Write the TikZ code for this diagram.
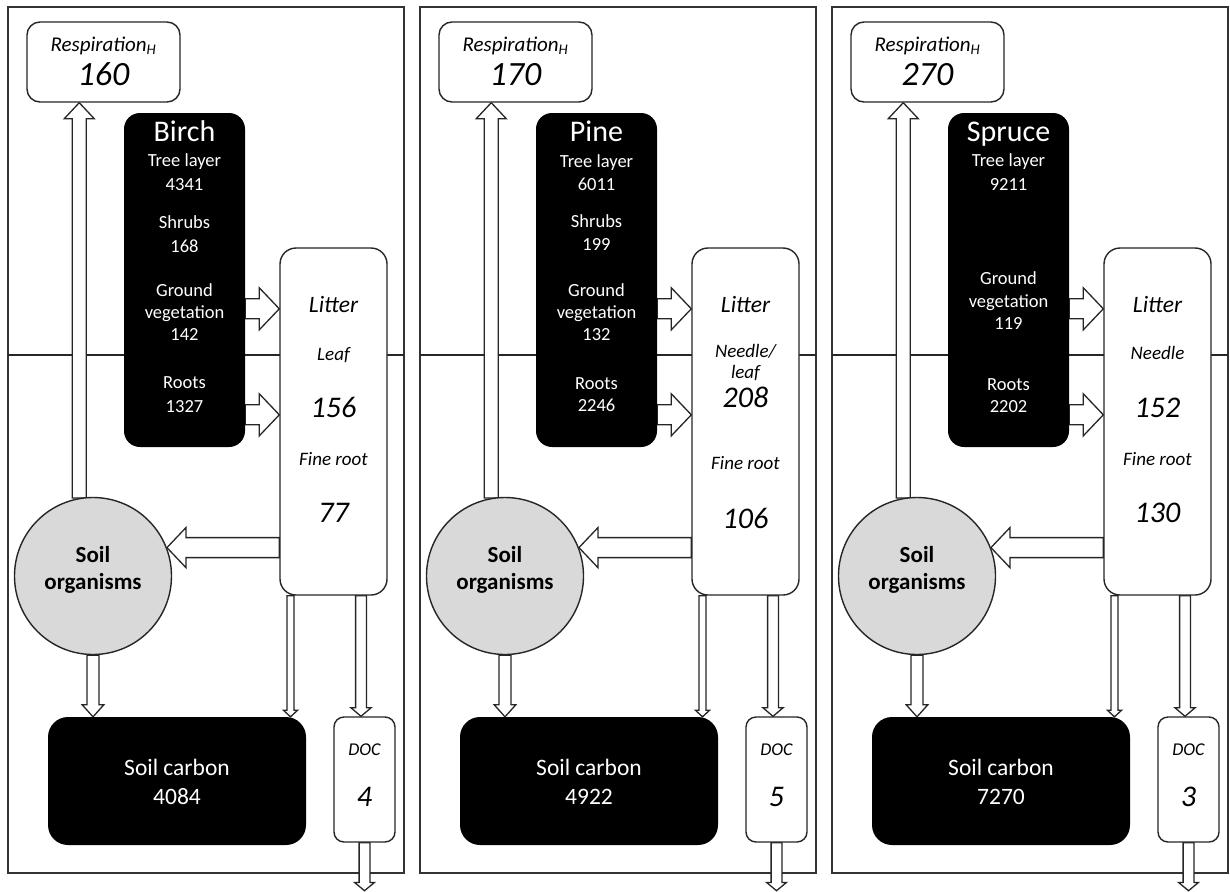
\documentclass[tikz,border=0pt]{standalone}
\usepackage{fontspec}
\setmainfont{Carlito}
\usetikzlibrary{calc}

\pgfdeclarelayer{back}
\pgfdeclarelayer{flows}
\pgfsetlayers{back,flows,main}

\newcommand\pxfont[1]{\fontsize{#1}{#1}\selectfont}

\tikzset{
  ink/.style={draw=black!85, line width=1.4pt},
  framebox/.style={draw=black!80, line width=1.8pt},
  flowline/.style={draw=black!85, line width=1.3pt, fill=white, line join=miter},
  whitebox/.style={ink, fill=white, rounded corners=#1, inner sep=0pt},
  darkbox/.style={fill=black, rounded corners=#1, inner sep=0pt},
  lbl/.style={inner sep=0pt, text depth=0pt},
  resplbl/.style={font=\pxfont{21}\itshape, text height=13pt},
  respnum/.style={font=\pxfont{34}\itshape, text height=21pt},
  species/.style={font=\pxfont{30}, text=white, text height=18.6pt},
  stock/.style={font=\pxfont{18.5}, text=white, text height=11.5pt},
  littitle/.style={font=\pxfont{23.5}\itshape, text height=14.6pt},
  litsub/.style={font=\pxfont{19}\itshape, text height=11.8pt},
  litnum/.style={font=\pxfont{30}\itshape, text height=18.6pt},
  orglbl/.style={font=\pxfont{23}\bfseries, text height=14.3pt},
  carlbl/.style={font=\pxfont{23.5}, text=white, text height=14.6pt},
  doclbl/.style={font=\pxfont{18}\itshape, text height=11.2pt},
  docnum/.style={font=\pxfont{30}\itshape, text height=18.6pt},
}

% block arrow: tail, tip, half shaft width, half head width, head length
\newcommand\flow[5]{%
  \coordinate (fa) at (#1);
  \coordinate (fb) at (#2);
  \coordinate (fh) at ($(fb)!#5pt!(fa)$);
  \draw[flowline] ($(fa)!#3pt!90:(fb)$) -- ($(fh)!#3pt!90:(fb)$) -- ($(fh)!#4pt!90:(fb)$) -- (fb)
    -- ($(fh)!#4pt!-90:(fb)$) -- ($(fh)!#3pt!-90:(fb)$) -- ($(fa)!#3pt!-90:(fb)$) -- cycle;
}

% one stand: prefix, horizontal offset, respiration, species, soil carbon, DOC
\newcommand\forestpanel[6]{%
  \begin{pgfonlayer}{back}
    \draw[framebox] (#2+8,7) rectangle (#2+404,873);
    \draw[ink] (#2+8,355) -- (#2+404,355);
  \end{pgfonlayer}
  \node[whitebox=13pt, minimum width=153pt, minimum height=80pt] (#1-resp) at (#2+103.5,62) {};
  \node[lbl, resplbl] (#1-resp-t) at (#2+103.5,45) {Respiration\textsubscript{H}};
  \node[lbl, respnum] (#1-resp-v) at (#2+103.5,75) {#3};
  \node[darkbox=16pt, minimum width=121pt, minimum height=334pt] (#1-tree) at (#2+184.5,280) {};
  \node[lbl, species] (#1-name) at (#2+184.5,132) {#4};
  \node[whitebox=16pt, minimum width=107pt, minimum height=347pt] (#1-lit) at (#2+333.5,421.5) {};
  \node[lbl, littitle] (#1-lit-t) at (#2+333.5,305) {Litter};
  \node[circle, ink, fill=black!15, minimum size=157pt, inner sep=0pt] (#1-org) at (#2+93,576) {};
  \node[lbl, orglbl] (#1-org-a) at (#2+93,555) {Soil};
  \node[lbl, orglbl] (#1-org-b) at (#2+93,582) {organisms};
  \node[darkbox=20pt, minimum width=258pt, minimum height=128pt] (#1-car) at (#2+177,781) {};
  \node[lbl, carlbl] (#1-car-t) at (#2+177,768) {Soil carbon};
  \node[lbl, carlbl] (#1-car-v) at (#2+177,797) {#5};
  \node[whitebox=10pt, minimum width=61pt, minimum height=125pt] (#1-doc) at (#2+364.5,779.5) {};
  \node[lbl, doclbl] (#1-doc-t) at (#2+364.5,750) {DOC};
  \node[lbl, docnum] (#1-doc-v) at (#2+364.5,797) {#6};
  \coordinate (#1-gv) at ([yshift=-196pt]#1-tree.north east);
  \coordinate (#1-rt) at ([yshift=-302pt]#1-tree.north east);
  \coordinate (#1-l1) at ([xshift=-43pt]#1-lit.south);
  \coordinate (#1-l2) at ([xshift=27.5pt]#1-lit.south);
  \coordinate (#1-out) at ([yshift=-48pt]#1-doc.south);
  \begin{pgfonlayer}{flows}
    \flow{#1-org.100}{#1-org.100 |- #1-resp.south}{7}{15}{16}
    \flow{#1-gv}{#1-lit.west |- #1-gv}{10}{21}{20}
    \flow{#1-rt}{#1-lit.west |- #1-rt}{10}{21}{20}
    \flow{#1-lit.west |- #1-org.21}{#1-org.21}{10}{20}{19}
    \flow{#1-org.south}{#1-org.south |- #1-car.north}{6}{10.8}{12}
    \flow{#1-l1}{#1-l1 |- #1-car.north}{3.5}{7}{6.5}
    \flow{#1-l2}{#1-l2 |- #1-doc.north}{5.4}{10}{8.5}
    \flow{#1-doc.south}{#1-out}{5.4}{10}{8.3}
  \end{pgfonlayer}
}

\begin{document}
\begin{tikzpicture}[x=1pt, y=-1pt]
  \useasboundingbox (0,0) rectangle (1230,891);
  \begin{pgfonlayer}{back}
    \fill[white] (0,0) rectangle (1230,891);
  \end{pgfonlayer}

  % Birch stand
  \forestpanel{b}{0}{160}{Birch}{4084}{4}
  \node[lbl, stock] (b-s1) at (184.5,161) {Tree layer};
  \node[lbl, stock] (b-s2) at (184.5,185) {4341};
  \node[lbl, stock] (b-s3) at (184.5,223) {Shrubs};
  \node[lbl, stock] (b-s4) at (184.5,247) {168};
  \node[lbl, stock] (b-s5) at (184.5,291) {Ground};
  \node[lbl, stock] (b-s6) at (184.5,313) {vegetation};
  \node[lbl, stock] (b-s7) at (184.5,335) {142};
  \node[lbl, stock] (b-s8) at (184.5,383) {Roots};
  \node[lbl, stock] (b-s9) at (184.5,407) {1327};
  \node[lbl, litsub] (b-f1) at (333.5,355) {Leaf};
  \node[lbl, litnum] (b-f2) at (333.5,408) {156};
  \node[lbl, litsub] (b-f3) at (333.5,460) {Fine root};
  \node[lbl, litnum] (b-f4) at (333.5,513) {77};

  % Pine stand
  \forestpanel{p}{412}{170}{Pine}{4922}{5}
  \node[lbl, stock] (p-s1) at (412+184.5,162) {Tree layer};
  \node[lbl, stock] (p-s2) at (412+184.5,185) {6011};
  \node[lbl, stock] (p-s3) at (412+184.5,222) {Shrubs};
  \node[lbl, stock] (p-s4) at (412+184.5,245) {199};
  \node[lbl, stock] (p-s5) at (412+184.5,291) {Ground};
  \node[lbl, stock] (p-s6) at (412+184.5,313) {vegetation};
  \node[lbl, stock] (p-s7) at (412+184.5,335) {132};
  \node[lbl, stock] (p-s8) at (412+184.5,384) {Roots};
  \node[lbl, stock] (p-s9) at (412+184.5,406) {2246};
  \node[lbl, litsub] (p-f1) at (412+333.5,352) {Needle/};
  \node[lbl, litsub] (p-f1b) at (412+333.5,373) {leaf};
  \node[lbl, litnum] (p-f2) at (412+333.5,398) {208};
  \node[lbl, litsub] (p-f3) at (412+333.5,464) {Fine root};
  \node[lbl, litnum] (p-f4) at (412+333.5,519) {106};

  % Spruce stand
  \forestpanel{s}{824}{270}{Spruce}{7270}{3}
  \node[lbl, stock] (s-s1) at (824+184.5,161) {Tree layer};
  \node[lbl, stock] (s-s2) at (824+184.5,185) {9211};
  \node[lbl, stock] (s-s5) at (824+184.5,279) {Ground};
  \node[lbl, stock] (s-s6) at (824+184.5,302) {vegetation};
  \node[lbl, stock] (s-s7) at (824+184.5,324) {119};
  \node[lbl, stock] (s-s8) at (824+184.5,385) {Roots};
  \node[lbl, stock] (s-s9) at (824+184.5,407) {2202};
  \node[lbl, litsub] (s-f1) at (824+333.5,354) {Needle};
  \node[lbl, litnum] (s-f2) at (824+333.5,408) {152};
  \node[lbl, litsub] (s-f3) at (824+333.5,460) {Fine root};
  \node[lbl, litnum] (s-f4) at (824+333.5,513) {130};
\end{tikzpicture}
\end{document}
